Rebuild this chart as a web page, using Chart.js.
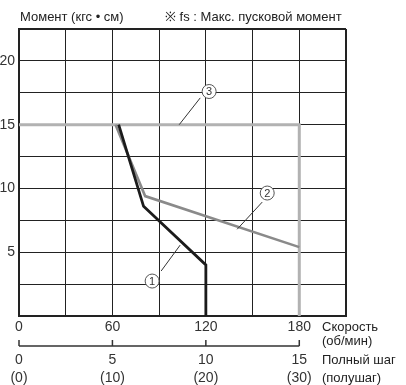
<!DOCTYPE html>
<html>
<head>
<meta charset="utf-8">
<script src="https://cdn.jsdelivr.net/npm/chart.js@4"></script>
<style>
  html, body { margin: 0; padding: 0; background: #fff; }
  canvas { display: block; }
</style>
</head>
<body>
<canvas id="chart" width="406" height="385"></canvas>
<script>
// curve data: speed (rpm) / torque (kgf·cm)
const rpm1    = [64, 80, 120, 120];
const torque1 = [15, 8.6, 4, 0];
const rpm2    = [62, 81, 180];
const torque2 = [15, 9.4, 5.4];
const rpm3    = [0, 180, 180];
const torque3 = [15, 15, 0];

// axis labels
const speedTicks   = [0, 60, 120, 180];
const torqueTicks  = [5, 10, 15, 20];
const stepLabels   = ['0', '5', '10', '15'];
const halfLabels   = ['(0)', '(10)', '(20)', '(30)'];

// circled markers: [label, circle x, circle y, leader from x/y, leader to x/y] in data units
const markers = [
  ['3', 122.1, 17.6, 116.4, 17.1, 102.9, 15],
  ['2', 159.4, 9.64, 156.2, 8.93, 140.1, 6.8],
  ['1', 85.5, 2.74, 91.3, 3.53, 103.5, 5.56]
];

const FONT = '"Liberation Sans", Arial, sans-serif';
const pts = (xs, ys) => xs.map((x, i) => ({ x, y: ys[i] }));

const overlay = {
  id: 'overlay',
  afterDatasetsDraw(chart) {
    const c = chart.ctx, xs = chart.scales.x, ys = chart.scales.y;
    c.save();
    // leader lines + circles
    markers.forEach(([lab, cx, cy, x1, y1, x2, y2]) => {
      c.strokeStyle = '#333';
      c.lineWidth = 1;
      c.beginPath();
      c.moveTo(xs.getPixelForValue(x1), ys.getPixelForValue(y1));
      c.lineTo(xs.getPixelForValue(x2), ys.getPixelForValue(y2));
      c.stroke();
      const px = xs.getPixelForValue(cx), py = ys.getPixelForValue(cy);
      c.beginPath();
      c.arc(px, py, 7, 0, Math.PI * 2);
      c.fillStyle = '#fff';
      c.fill();
      c.strokeStyle = '#555';
      c.stroke();
      c.fillStyle = '#333';
      c.font = '11px ' + FONT;
      c.textAlign = 'center';
      c.textBaseline = 'middle';
      c.fillText(lab, px, py + 0.5);
    });
    c.restore();
  },
  afterDraw(chart) {
    const c = chart.ctx, xs = chart.scales.x;
    c.save();
    c.fillStyle = '#222';
    c.font = '13px ' + FONT;
    c.textBaseline = 'alphabetic';
    c.textAlign = 'left';
    c.fillText('Момент (кгс • см)', 20, 21);
    c.fillText('※ fs : Макс. пусковой момент', 165, 21);

    c.textBaseline = 'middle';
    c.fillText('Скорость', 322, 327);
    c.fillText('(об/мин)', 322, 341);
    c.fillText('Полный шаг', 322, 360);
    c.fillText('(полушаг)', 322, 378);

    // step axis
    const x0 = xs.getPixelForValue(speedTicks[0]);
    const x1 = xs.getPixelForValue(speedTicks[speedTicks.length - 1]);
    c.strokeStyle = '#333';
    c.lineWidth = 1.5;
    c.beginPath();
    c.moveTo(x0, 346);
    c.lineTo(x1, 346);
    speedTicks.forEach(v => {
      const px = xs.getPixelForValue(v);
      c.moveTo(px, 346);
      c.lineTo(px, 340);
    });
    c.stroke();

    c.fillStyle = '#333';
    c.font = '14px ' + FONT;
    c.textAlign = 'center';
    speedTicks.forEach((v, i) => {
      const px = xs.getPixelForValue(v);
      c.fillText(stepLabels[i], px, 360);
      c.fillText(halfLabels[i], px, 378);
    });
    c.restore();
  }
};

const edgeWidth = max => ctx => (ctx.index === 0 || ctx.tick.value === max) ? 2 : 1;

new Chart(document.getElementById('chart').getContext('2d'), {
  type: 'line',
  data: {
    datasets: [
      { data: pts(rpm1, torque1), borderColor: '#1b1b1b', borderWidth: 2.8, order: 1 },
      { data: pts(rpm2, torque2), borderColor: '#8a8a8a', borderWidth: 2.6, order: 2 },
      { data: pts(rpm3, torque3), borderColor: '#b2b2b2', borderWidth: 3, order: 3 }
    ]
  },
  options: {
    responsive: false,
    animation: false,
    layout: { padding: { top: 29, right: 60, left: 0, bottom: 0 } },
    elements: { point: { radius: 0 }, line: { tension: 0 } },
    plugins: { legend: { display: false }, tooltip: { enabled: false } },
    scales: {
      x: {
        type: 'linear', min: 0, max: 210,
        afterFit: s => { s.height = 69; },
        ticks: {
          stepSize: 30, autoSkip: false, maxRotation: 0, padding: 3,
          color: '#333', font: { size: 14, family: FONT },
          callback: v => speedTicks.includes(v) ? String(v) : ''
        },
        grid: { color: '#222', lineWidth: edgeWidth(210), drawTicks: false },
        border: { color: '#222', width: 2 }
      },
      y: {
        min: 0, max: 22.5,
        afterFit: s => { s.width = 19; },
        ticks: {
          stepSize: 2.5, autoSkip: false, padding: 4,
          color: '#333', font: { size: 14, family: FONT },
          callback: v => torqueTicks.includes(v) ? String(v) : ''
        },
        grid: { color: '#222', lineWidth: edgeWidth(22.5), drawTicks: false },
        border: { color: '#222', width: 2 }
      }
    }
  },
  plugins: [overlay]
});
</script>
</body>
</html>
